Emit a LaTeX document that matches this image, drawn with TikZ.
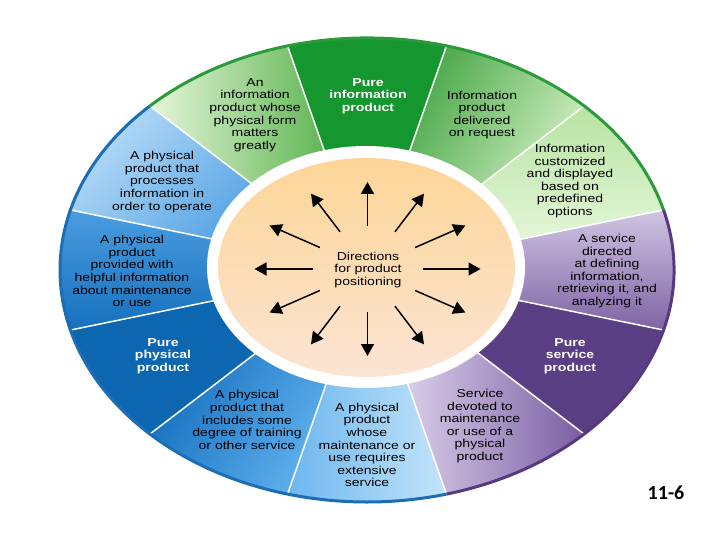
\documentclass[tikz,border=0pt]{standalone}
\usepackage{fontspec}
\setmainfont{Liberation Sans}[FakeStretch=1.22]
\newfontfamily\pagefont{Carlito}
\usetikzlibrary{arrows.meta}
\definecolor{gBorder}{HTML}{2A9A3A}
\definecolor{bBorder}{HTML}{1B6DB5}
\definecolor{pBorder}{HTML}{56397F}
\definecolor{gPure}{HTML}{16962F}
\definecolor{bPure}{HTML}{0C66B0}
\definecolor{pPure}{HTML}{5B3F85}
\definecolor{ovTop}{HTML}{FCD596}
\definecolor{ovBot}{HTML}{FCE4D4}
\definecolor{sA0}{RGB}{126,99,163}\definecolor{sB0}{RGB}{208,197,228}
\definecolor{sA30}{RGB}{184,227,162}\definecolor{sB30}{RGB}{227,246,216}
\definecolor{sA60}{RGB}{74,168,74}\definecolor{sB60}{RGB}{207,238,191}
\definecolor{sA120}{RGB}{95,181,82}\definecolor{sB120}{RGB}{230,246,218}
\definecolor{sA150}{RGB}{90,166,228}\definecolor{sB150}{RGB}{184,220,248}
\definecolor{sA180}{RGB}{22,112,189}\definecolor{sB180}{RGB}{74,157,224}
\definecolor{sA240}{RGB}{22,112,191}\definecolor{sB240}{RGB}{95,176,236}
\definecolor{sA270}{RGB}{108,182,238}\definecolor{sB270}{RGB}{196,228,250}
\definecolor{sA300}{RGB}{122,94,163}\definecolor{sB300}{RGB}{216,205,232}
\newcommand\ringsec[4]{%
  \shade[top color=#2, bottom color=#3, shading angle=#4]
    ({#1-15}:307 and 232) arc[start angle={#1-15}, end angle={#1+15}, x radius=307, y radius=232]
    -- ({#1+15}:150 and 112) arc[start angle={#1+15}, end angle={#1-15}, x radius=150, y radius=112] -- cycle;}
\begin{document}
\begin{tikzpicture}[x=1pt,y=1pt,
  lbl/.style={align=center, font=\fontsize{11.5}{12.6}\selectfont, inner sep=0pt, text=black},
  pure/.style={align=center, font=\fontsize{11.5}{12.6}\selectfont\bfseries, inner sep=0pt, text=white},
  sepline/.style={white, line width=1.5pt},
  rim/.style={line width=3pt},
  arr/.style={line width=1.5pt, -{Triangle[length=12pt,width=13pt]}}]
\useasboundingbox (0,0) rectangle (720,-540);
\fill[white] (0,0) rectangle (720,-540);

\begin{scope}[shift={(367,-270)}]
  % sectors
  \ringsec{0}{sA0}{sB0}{-180}
  \ringsec{30}{sA30}{sB30}{0}
  \ringsec{60}{sA60}{sB60}{60}
  \ringsec{90}{gPure}{gPure}{0}
  \ringsec{120}{sA120}{sB120}{-90}
  \ringsec{150}{sA150}{sB150}{-135}
  \ringsec{180}{sA180}{sB180}{-180}
  \ringsec{210}{bPure}{bPure}{0}
  \ringsec{240}{sA240}{sB240}{60}
  \ringsec{270}{sA270}{sB270}{90}
  \ringsec{300}{sA300}{sB300}{-90}
  \ringsec{330}{pPure}{pPure}{0}
  % separators
  \foreach \a in {15,45,...,345}
    \draw[sepline] (\a:150 and 112) -- (\a:307 and 232);
  % outer rim
  \draw[rim, gBorder] (15:307 and 232) arc[start angle=15, end angle=135, x radius=307, y radius=232];
  \draw[rim, bBorder] (135:307 and 232) arc[start angle=135, end angle=285, x radius=307, y radius=232];
  \draw[rim, pBorder] (285:307 and 232) arc[start angle=285, end angle=375, x radius=307, y radius=232];
\end{scope}

% white gap and centre
\fill[white] (366,-267) ellipse[x radius=159, y radius=121];
\shade[top color=ovTop, bottom color=ovBot] (366.5,-267.5) ellipse[x radius=148.5, y radius=109.5];

% arrows
\begin{scope}[shift={(367.5,-269)}]
  \foreach \k in {0,...,11} {
    \coordinate (s\k) at (\k*30:55 and 43);
    \coordinate (e\k) at (\k*30:113 and 87);
    \draw[arr] (s\k) -- (e\k);
  }
\end{scope}

\node[lbl] (center) at (368,-270) {Directions\\for product\\positioning};

% sector texts
\node[pure] (t90) at (368,-96) {Pure\\information\\product};
\node[lbl] (t120) at (255,-115) {An\\information\\product whose\\physical form\\matters\\greatly};
\node[lbl] (t60) at (482,-115) {Information\\product\\delivered\\on request};
\node[lbl] (t30) at (570,-181) {Information\\customized\\and displayed\\based on\\predefined\\options};
\node[lbl] (t0) at (607,-271) {A service\\directed\\at defining\\information,\\retrieving it, and\\analyzing it};
\node[pure] (t330) at (570,-356) {Pure\\service\\product};
\node[lbl] (t300) at (480,-426) {Service\\devoted to\\maintenance\\or use of a\\physical\\product};
\node[lbl] (t270) at (367,-445) {A physical\\product\\whose\\maintenance or\\use requires\\extensive\\service};
\node[lbl] (t240) at (247,-420) {A physical\\product that\\includes some\\degree of training\\or other service};
\node[pure] (t210) at (163,-356) {Pure\\physical\\product};
\node[lbl] (t180) at (132,-271) {A physical\\product\\provided with\\helpful information\\about maintenance\\or use};
\node[lbl] (t150) at (162,-182) {A physical\\product that\\processes\\information in\\order to operate};

\node[font=\fontsize{20}{24}\selectfont\pagefont\bfseries, inner sep=0pt] (pg) at (666,-493) {11-6};
\end{tikzpicture}
\end{document}
